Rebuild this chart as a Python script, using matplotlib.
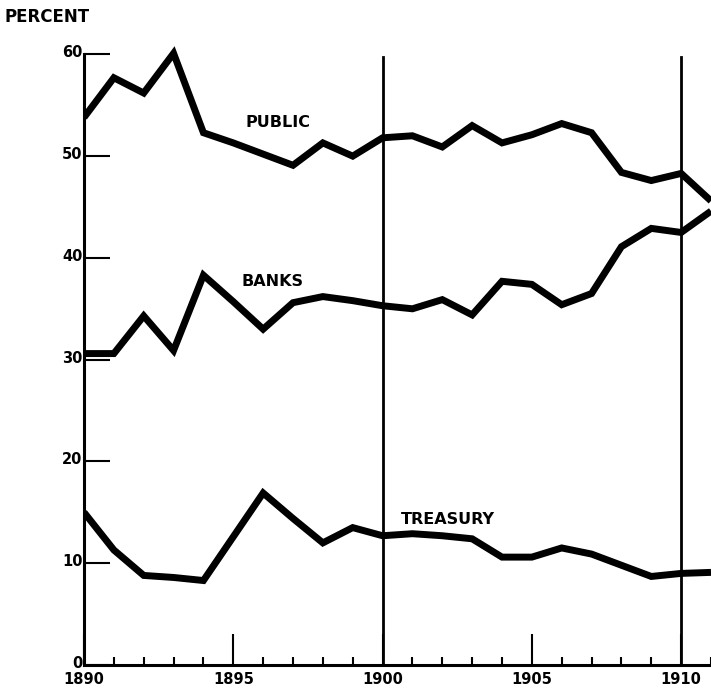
import numpy as np
import matplotlib.pyplot as plt
import matplotlib.transforms as mtransforms

years = list(range(1890, 1912))
public = [53.8, 57.7, 56.2, 60.1, 52.3, 51.3, 50.2, 49.1, 51.3, 50.0, 51.8, 52.0,
          50.9, 53.0, 51.3, 52.1, 53.2, 52.3, 48.4, 47.6, 48.3, 45.6]
banks = [30.6, 30.6, 34.3, 30.9, 38.3, 35.7, 33.0, 35.6, 36.2, 35.8, 35.3, 35.0,
         35.9, 34.4, 37.7, 37.4, 35.4, 36.5, 41.1, 42.9, 42.5, 44.6]
treasury = [15.0, 11.3, 8.8, 8.6, 8.3, 12.6, 16.9, 14.4, 12.0, 13.5, 12.7, 12.9,
            12.7, 12.4, 10.6, 10.6, 11.5, 10.9, 9.8, 8.7, 9.0, 9.1]
labels = ["PUBLIC", "BANKS", "TREASURY"]
label_pos = [(1896.5, 53.3), (1896.3, 37.7), (1902.2, 14.3)]
yticks = [0, 10, 20, 30, 40, 50, 60]
xticks = [1890, 1895, 1900, 1905, 1910]

fig = plt.figure(figsize=(7.11, 6.91), dpi=100)
ax = fig.add_axes([84 / 711, 26 / 691, 627 / 711, 631 / 691])
ax.set_xlim(1890, 1890 + 627 / 30.15)
ax.set_ylim(0, 62)

for s in [public, banks, treasury]:
    ax.plot(years, s, color="black", lw=5, solid_joinstyle="miter", solid_capstyle="butt")

for (x, y), t in zip(label_pos, labels):
    ax.text(x, y, t, fontsize=11.5, fontweight="bold", ha="center", va="center")

# full height lines at 1900 and 1910
for x in [1900, 1910]:
    ax.plot([x, x], [0, 59.7], color="black", lw=2)

for side in ["top", "right"]:
    ax.spines[side].set_visible(False)
ax.spines["left"].set_bounds(0, 60)
ax.spines["left"].set_linewidth(2.2)
ax.spines["bottom"].set_linewidth(2.2)

ax.set_yticks(yticks)
ax.set_yticklabels([str(v) for v in yticks], fontsize=10.5, fontweight="bold")
ax.tick_params(axis="y", direction="in", length=19, width=1.5, pad=1)
shift = mtransforms.ScaledTranslation(0, 3 / 100, fig.dpi_scale_trans)
for lab in ax.get_yticklabels():
    lab.set_transform(lab.get_transform() + shift)

ax.set_xticks(xticks)
ax.set_xticklabels([str(v) for v in xticks], fontsize=10.5, fontweight="bold")
ax.set_xticks(years, minor=True)
ax.tick_params(axis="x", which="major", direction="in", length=22, width=1.5, pad=5)
ax.tick_params(axis="x", which="minor", direction="in", length=6, width=1.5)

fig.text(5 / 711, 1 - 17 / 691, "PERCENT", fontsize=12, fontweight="bold",
         ha="left", va="center")

fig.savefig("out.png", dpi=100)
